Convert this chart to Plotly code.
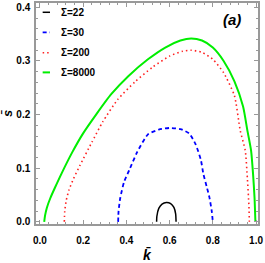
import plotly.graph_objects as go

# Sigma = 22
k22 = [0.540, 0.541, 0.550, 0.565, 0.585, 0.605, 0.620, 0.628, 0.630]
s22 = [0.000, 0.010, 0.025, 0.033, 0.036, 0.034, 0.027, 0.015, 0.000]
# Sigma = 30
k30 = [0.362, 0.364, 0.372, 0.390, 0.413, 0.450, 0.500, 0.550, 0.600, 0.650, 0.690, 0.720, 0.745, 0.756, 0.772, 0.784, 0.795, 0.800]
s30 = [0.000, 0.020, 0.045, 0.075, 0.096, 0.130, 0.163, 0.172, 0.175, 0.173, 0.165, 0.145, 0.115, 0.090, 0.065, 0.046, 0.020, 0.000]
# Sigma = 200
k200 = [0.113, 0.115, 0.122, 0.135, 0.155, 0.185, 0.240, 0.290, 0.360, 0.440, 0.520, 0.600, 0.660, 0.700, 0.750, 0.800, 0.850, 0.900, 0.927, 0.950, 0.960, 0.967, 0.969]
s200 = [0.000, 0.020, 0.040, 0.060, 0.080, 0.105, 0.148, 0.186, 0.228, 0.261, 0.288, 0.309, 0.318, 0.320, 0.316, 0.303, 0.278, 0.235, 0.170, 0.133, 0.080, 0.030, 0.000]
# Sigma = 8000
k8000 = [0.020, 0.024, 0.032, 0.048, 0.070, 0.100, 0.150, 0.200, 0.260, 0.330, 0.410, 0.500, 0.580, 0.650, 0.700, 0.750, 0.800, 0.850, 0.900, 0.940, 0.960, 0.977, 0.986, 0.993, 0.997]
s8000 = [0.000, 0.012, 0.026, 0.044, 0.064, 0.090, 0.130, 0.165, 0.200, 0.238, 0.272, 0.303, 0.325, 0.338, 0.342, 0.338, 0.325, 0.300, 0.262, 0.215, 0.170, 0.133, 0.090, 0.045, 0.000]

labels = ["Σ=22", "Σ=30", "Σ=200", "Σ=8000"]
xticks = [0.0, 0.2, 0.4, 0.6, 0.8, 1.0]
yticks = [0.0, 0.1, 0.2, 0.3, 0.4]

styles = [
    dict(color="black", width=1.5),
    dict(color="#0000FF", width=1.8, dash="4px,3px"),
    dict(color="#FF2020", width=1.6, dash="1.5px,3px"),
    dict(color="#00EE00", width=2),
]
series = [(k22, s22), (k30, s30), (k200, s200), (k8000, s8000)]

fig = go.Figure()
for (kx, sy), name, st in zip(series, labels, styles):
    fig.add_trace(go.Scatter(x=kx, y=sy, mode="lines", name=name,
                             line=dict(**st, shape="spline", smoothing=0.6), showlegend=False))

# custom compact legend (short key lines, as in the reference)
legend_rows = [0.958, 0.867, 0.775, 0.686]
for name, st, yp in zip(labels, styles, legend_rows):
    fig.add_shape(type="line", xref="paper", yref="paper", x0=0.030, x1=0.063, y0=yp, y1=yp,
                  line=st)
    fig.add_annotation(text=f"<b>{name}</b>", x=0.102, y=yp, xref="paper", yref="paper",
                       xanchor="left", yanchor="middle", showarrow=False,
                       font=dict(family="Liberation Sans", size=10, color="black"))

axis_common = dict(
    showgrid=False, zeroline=False, mirror="allticks", showline=True,
    linecolor="#999999", linewidth=1.5, ticks="inside", ticklen=4,
    tickcolor="#999999", tickwidth=1, automargin=False,
    tickfont=dict(family="Liberation Sans", size=10, color="black", weight="bold"),
)
fig.update_xaxes(range=[-0.018, 1.009], tickvals=xticks, ticktext=[f"{v:.1f}" for v in xticks],
                 minor=dict(dtick=0.04, ticks="inside", ticklen=2, tickcolor="#999999"),
                 ticklabelstandoff=6,
                 title=dict(text="<i>k̄</i>", font=dict(family="Liberation Sans", size=14, color="black", weight="bold"), standoff=9),
                 **axis_common)
fig.update_yaxes(range=[-0.004, 0.408], tickvals=yticks, ticktext=[f"{v:.1f}" for v in yticks],
                 minor=dict(dtick=0.02, ticks="inside", ticklen=2, tickcolor="#999999"),
                 ticklabelstandoff=2,
                 title=dict(text="<i>s̄</i>", font=dict(family="Liberation Sans", size=13, color="black", weight="bold"), standoff=6),
                 **axis_common)

fig.add_annotation(text="<b><i>(a)</i></b>", x=0.883, y=0.926, xref="paper", yref="paper",
                   xanchor="center", yanchor="middle",
                   showarrow=False, font=dict(family="Liberation Sans", size=15, color="black"))

fig.update_layout(
    width=265, height=263,
    margin=dict(l=36, r=7, t=3, b=39, autoexpand=False),
    plot_bgcolor="white", paper_bgcolor="white",
    showlegend=False,
)
fig.write_html("out.html", config={"displayModeBar": False})

with open("out.html", "r", encoding="utf-8") as f:
    html = f.read()
html = html.replace("<body>", '<body style="margin:0;padding:0;overflow:hidden;">', 1)
with open("out.html", "w", encoding="utf-8") as f:
    f.write(html)
